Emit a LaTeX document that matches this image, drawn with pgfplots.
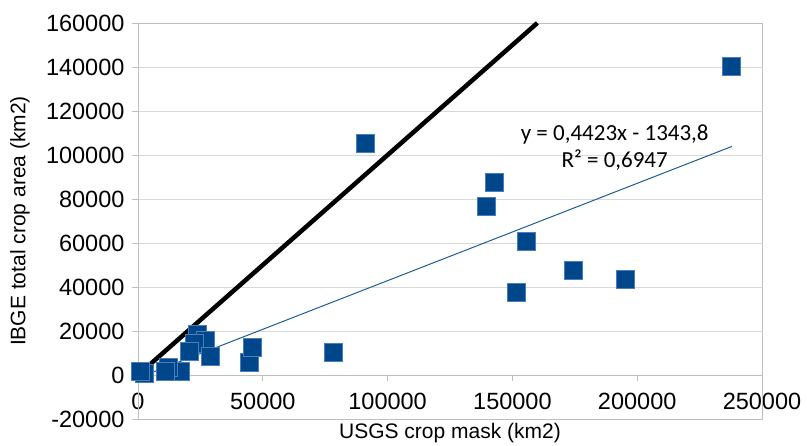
\documentclass[border=0pt]{standalone}
\usepackage{fontspec}
\setmainfont{Liberation Sans}
\newfontfamily\calibri{Carlito}
\usepackage{pgfplots}
\pgfplotsset{compat=1.18}
\definecolor{mk}{HTML}{00468B}
\definecolor{mkedge}{HTML}{4A7EBB}
\definecolor{trend}{HTML}{1F5C9E}
\definecolor{gridc}{HTML}{D9D9D9}
\definecolor{axc}{HTML}{BFBFBF}
\begin{document}
\begin{tikzpicture}
\begin{axis}[
  at={(0,0)}, anchor=south west,
  scale only axis, width=624pt, height=396pt,
  xmin=0, xmax=250000, ymin=-20000, ymax=160000,
  axis x line=middle, axis y line=left,
  axis line style={-, draw=axc, line width=0.8pt},
  xtick={0,50000,100000,150000,200000,250000},
  ytick={-20000,0,20000,40000,60000,80000,100000,120000,140000,160000},
  scaled ticks=false,
  /pgf/number format/assume math mode=true,
  tick label style={font=\fontsize{23.5}{27}\selectfont, /pgf/number format/fixed, /pgf/number format/1000 sep={}},
  xticklabel style={yshift=-9pt},
  yticklabel style={xshift=-4pt},
  ymajorgrids, grid style={gridc, line width=0.8pt},
  tick style={axc, line width=0.8pt},
  tick align=outside, major tick length=6pt,
  hide obscured x ticks=false,
  xlabel={USGS crop mask (km2)}, ylabel={IBGE total crop area (km2)},
  label style={font=\fontsize{21}{25}\selectfont},
  xlabel style={at={(axis description cs:0.5,-0.035)}, anchor=center},
  ylabel style={at={(axis description cs:-0.189,0.5)}, anchor=center},
  clip=false,
]
\draw[axc, line width=0.8pt] (rel axis cs:0,0) rectangle (rel axis cs:1,1);
\addplot[black, line width=4.5pt] coordinates {(0,0) (160000,160000)};
\addplot[trend, line width=1pt] coordinates {(1200,-813) (237950,103900)};
\addplot[only marks, mark=square*, mark size=9pt, mark options={fill=mk, draw=mkedge, line width=1pt}] coordinates {
(237950,140400) (91300,105000) (143000,87700) (139800,76800) (155800,60900)
(174300,47700) (151800,37300) (195500,43200) (78500,10450)
(24000,18200) (27200,15500) (22800,14500) (20800,10500) (29200,8200)
(44500,5500) (45700,12300) (17200,1800) (12400,3200) (11200,1400)
(2800,900) (1200,1400)
};
\node[font=\calibri\fontsize{23}{27}\selectfont, align=center, inner sep=0pt] at (axis cs:191000,103200) {y = 0,4423x - 1343,8\\R² = 0,6947};
\end{axis}
\pgfresetboundingbox
\path (-138pt,-27pt) rectangle (669pt,419pt);
\end{tikzpicture}
\end{document}
